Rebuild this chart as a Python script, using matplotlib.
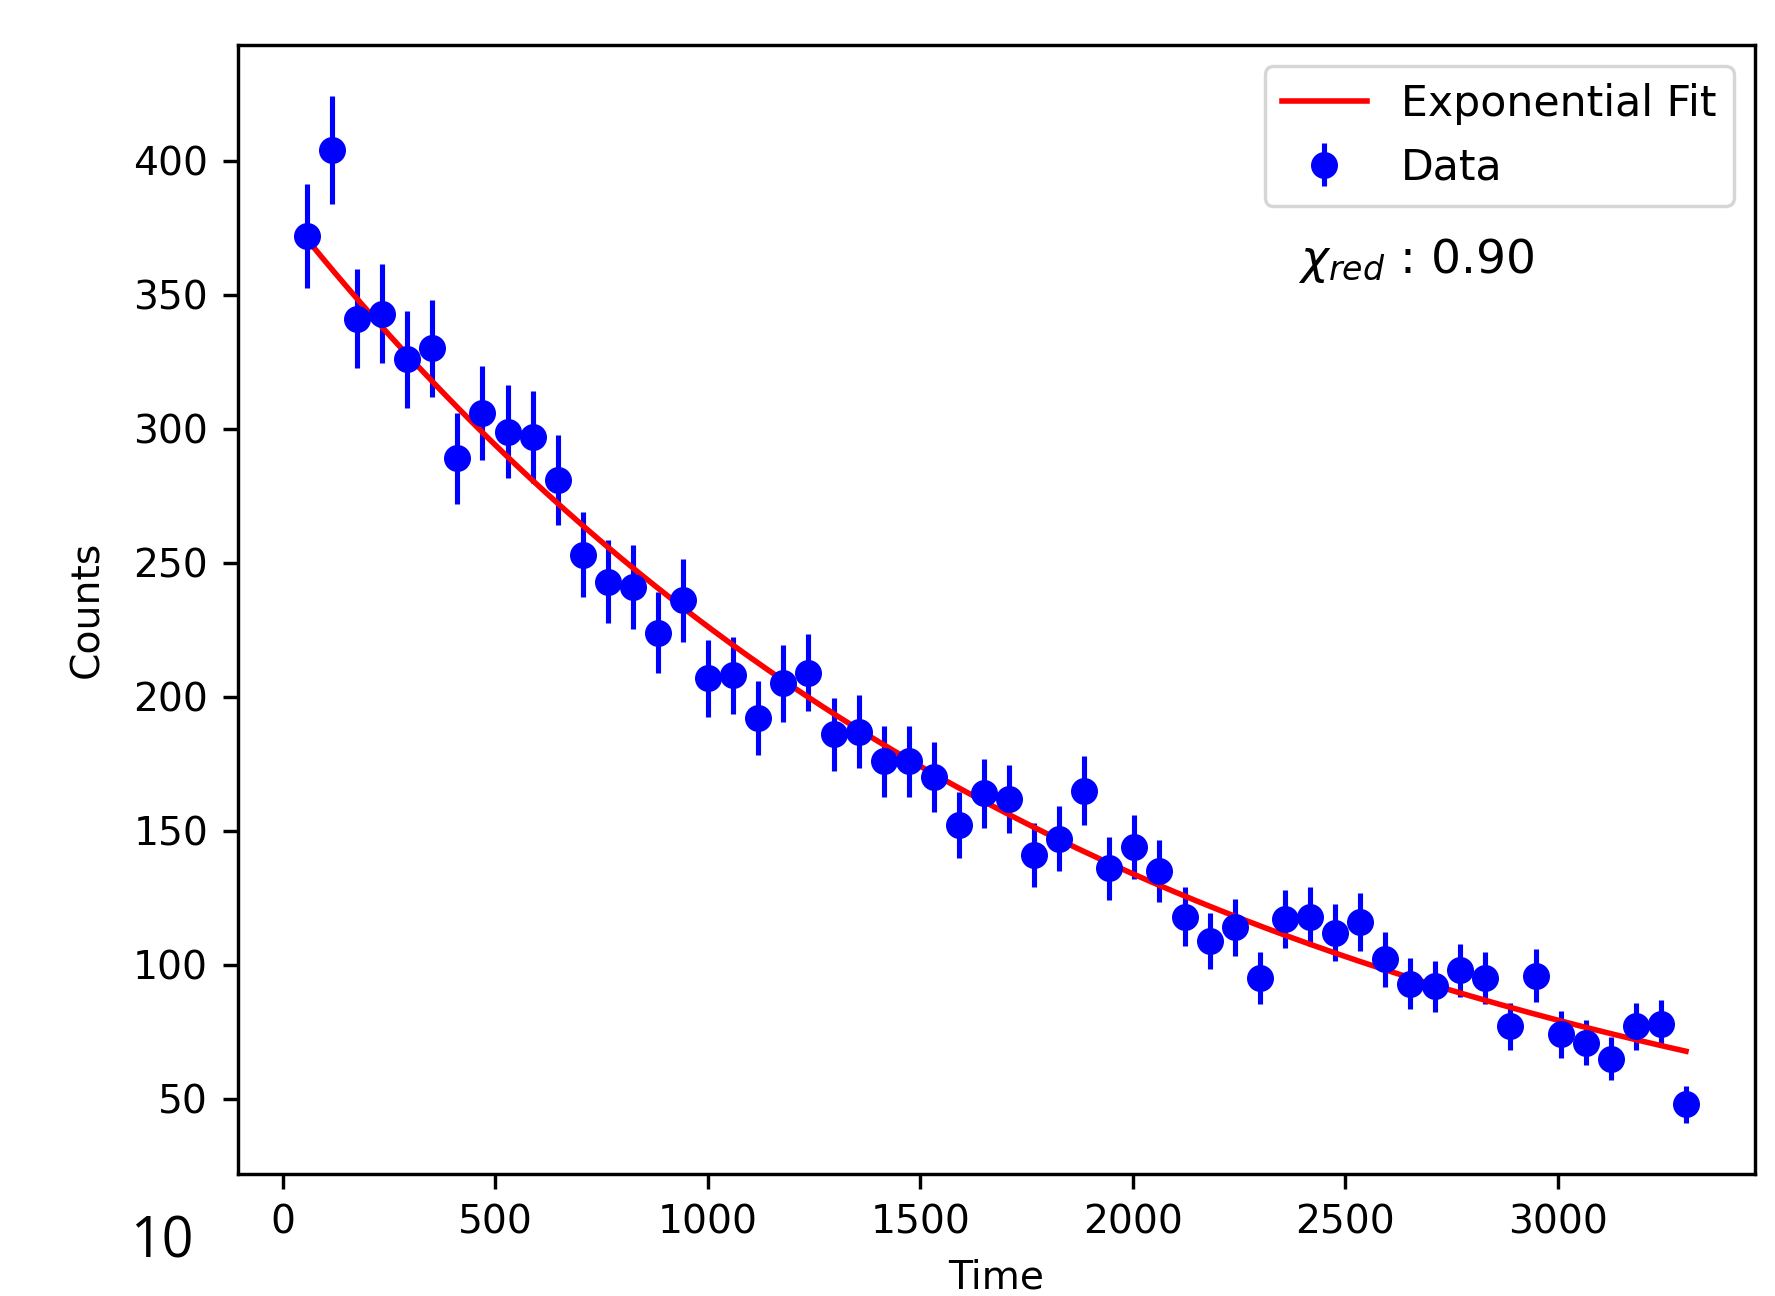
import numpy as np
import matplotlib
matplotlib.use('Agg')
import matplotlib.pyplot as plt

# -----------------------------------------------------------------------------------------------------------
# Decay counts with Poisson error bars and an exponential fit
# -----------------------------------------------------------------------------------------------------------

time_vals = [57, 116, 175, 234, 293, 352, 411, 470, 529, 588, 647, 706, 765, 824, 883, 942,
             1001, 1060, 1119, 1178, 1237, 1296, 1355, 1414, 1473, 1532, 1591, 1650, 1709, 1768,
             1827, 1886, 1945, 2004, 2063, 2122, 2181, 2240, 2299, 2358, 2417, 2476, 2535, 2594,
             2653, 2712, 2771, 2830, 2889, 2948, 3007, 3066, 3125, 3184, 3243, 3302]
counts = [372, 404, 341, 343, 326, 330, 289, 306, 299, 297, 281, 253, 243, 241, 224, 236,
          207, 208, 192, 205, 209, 186, 187, 176, 176, 170, 152, 164, 162, 141,
          147, 165, 136, 144, 135, 118, 109, 114, 95, 117, 118, 112, 116, 102,
          93, 92, 98, 95, 77, 96, 74, 71, 65, 77, 78, 48]

# fit parameters
fit_amp = 382.0
fit_tau = 1909.0
chi_red = 0.90

s = 3.07  # scale of the original 100 dpi figure

time_arr = np.array(time_vals)
count_arr = np.array(counts)
count_err = np.sqrt(count_arr)

t_fit = np.linspace(time_arr[0], time_arr[-1], 300)
c_fit = fit_amp * np.exp(-t_fit / fit_tau)

fig = plt.figure(figsize=(17.75, 12.96), dpi=100)
ax = fig.add_axes([0.1341, 0.0941, 0.8546, 0.8712])

ax.errorbar(time_arr, count_arr, yerr=count_err, fmt='bo', markersize=6 * s,
            elinewidth=1.2 * s, label='Data')
ax.plot(t_fit, c_fit, 'r-', linewidth=1.3 * s, label='Exponential Fit')

ax.text(2390, 358, r'$\chi_{red}$ : %.2f' % chi_red, fontsize=11.1 * s)

ax.set_xlabel('Time', fontsize=9.2 * s, labelpad=4 * s)
ax.set_ylabel('Counts', fontsize=9.2 * s, labelpad=4 * s + 7)
ax.tick_params(labelsize=9.2 * s, length=3.5 * s, width=0.8 * s, pad=3.5 * s)
for sp in ax.spines.values():
    sp.set_linewidth(0.8 * s)

leg = ax.legend(fontsize=10 * s, loc='upper right', borderaxespad=0.5, framealpha=0.8)
leg.get_frame().set_linewidth(0.8 * s)

fig.text(162 / 1775, 38 / 1296, '10', fontsize=40, family='Open Sans', ha='center', va='baseline')

fig.savefig('out.png', dpi=100)
